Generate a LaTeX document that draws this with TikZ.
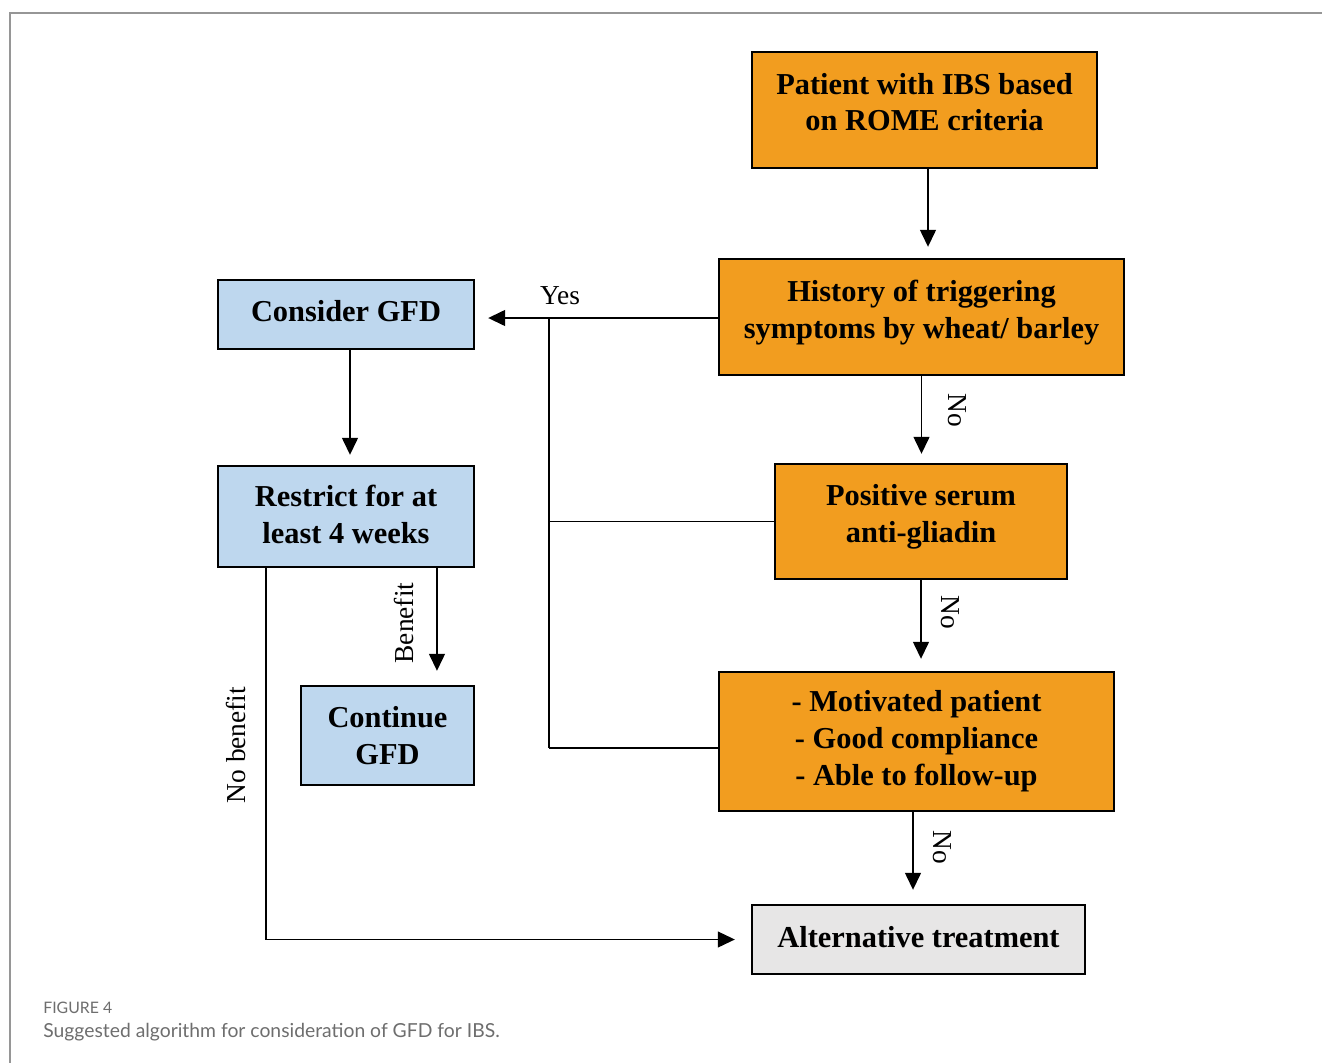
\documentclass[tikz,border=0pt]{standalone}
\usepackage{fontspec}
\setmainfont{Liberation Serif}
\newfontfamily\capfont{Lato}
\usetikzlibrary{calc,positioning,arrows.meta}
\definecolor{ruleOrange}{RGB}{242,157,31}
\definecolor{gfdBlue}{RGB}{190,215,238}
\definecolor{altGray}{RGB}{231,230,230}
\definecolor{frameGray}{RGB}{150,150,150}
\definecolor{capGray}{RGB}{110,110,110}

\begin{document}
\begin{tikzpicture}[x=0.02cm, y=-0.02cm,
  box/.style={draw=black, line width=1.4pt, inner sep=0pt, align=center,
    font=\fontsize{17.3}{21}\selectfont\bfseries},
  orangebox/.style={box, fill=ruleOrange},
  bluebox/.style={box, fill=gfdBlue},
  flow/.style={draw=black, line width=0.8pt, -{Triangle[length=0.34cm, width=0.32cm]}},
  link/.style={draw=black, line width=0.8pt},
  lab/.style={font=\fontsize{15.6}{18}\selectfont, inner sep=0pt}]

% Canvas and frame
\useasboundingbox (0,0) rectangle (1322,1062);
\fill[white] (0,0) rectangle (1322,1062);
\draw[frameGray, line width=0.9pt] (10,1070) -- (10,13) -- (1330,13);

% Right column (decision chain)
\node[orangebox, minimum width=6.9cm, minimum height=2.32cm, text depth=0.32cm] (patient) at (924.5,110) {Patient with IBS based\\on ROME criteria};
\node[orangebox, minimum width=8.1cm, minimum height=2.32cm, text depth=0.32cm] (history) at (921.5,317) {History of triggering\\symptoms by wheat/ barley};
\node[orangebox, minimum width=5.84cm, minimum height=2.3cm, text depth=0.34cm] (serum) at (921,521.5) {Positive serum\\anti-gliadin};
\node[orangebox, minimum width=7.9cm, minimum height=2.78cm] (motive) at (916.5,741.5) {- Motivated patient\\- Good compliance\\- Able to follow-up};
\node[box, fill=altGray, minimum width=6.66cm, minimum height=1.38cm, text depth=0.12cm] (alt) at (918.5,939.5) {Alternative treatment};

% Left column (GFD trial)
\node[bluebox, minimum width=5.12cm, minimum height=1.38cm, text depth=0.16cm] (consider) at (346,314.5) {Consider GFD};
\node[bluebox, minimum width=5.12cm, minimum height=2.02cm, text depth=0.1cm] (restrict) at (346,516.5) {Restrict for at\\least 4 weeks};
\node[bluebox, minimum width=3.46cm, minimum height=1.98cm] (continue) at (387.5,735.5) {Continue\\GFD};

% Arrows down the right column
\draw[flow, shorten >=0.22cm] ([xshift=0.07cm]patient.south) -- ([xshift=0.07cm]patient.south |- history.north);
\draw[flow, shorten >=0.18cm] (history.south) -- (history.south |- serum.north);
\draw[flow, shorten >=0.24cm] (serum.south) -- (serum.south |- motive.north);
\draw[flow, shorten >=0.28cm] ([xshift=-0.07cm]motive.south) -- ([xshift=-0.07cm]motive.south |- alt.north);

% Yes branch gathering into Consider GFD
\coordinate (jtop) at (549,318);
\coordinate (jbot) at (549,748);
\draw[flow, shorten >=0.26cm] (jtop -| history.west) -- (jtop -| consider.east);
\draw[link] (jtop) -- (jbot);
\draw[link] (serum.west) -- (serum.west -| jtop);
\draw[link] (jbot -| motive.west) -- (jbot);

% Arrows down the left column
\draw[flow, shorten >=0.2cm] ([xshift=0.08cm]consider.south) -- ([xshift=0.08cm]consider.south |- restrict.north);
\draw[flow, shorten >=0.28cm] ([xshift=1.82cm]restrict.south) -- ([xshift=1.82cm]restrict.south |- continue.north);
\draw[flow, line width=0.6pt, shorten >=0.32cm] ([xshift=-1.6cm]restrict.south) |- (alt.west);

% Labels on the connectors
\node[lab] (yes) at (560,296) {Yes};
\node[lab, rotate=-90] (no1) at (957,410) {No};
\node[lab, rotate=-90] (no2) at (950,612) {No};
\node[lab, rotate=-90] (no3) at (942,847) {No};
\node[lab, rotate=90] (benefit) at (404,623) {Benefit};
\node[lab, rotate=90] (nobenefit) at (236,745) {No benefit};

% Caption
\node[text=capGray, font=\capfont\fontsize{9}{11}\selectfont, anchor=base west, inner sep=0pt] (fig) at (43,1013) {FIGURE 4};
\node[text=capGray, font=\capfont\fontsize{11}{14}\selectfont, anchor=base west, inner sep=0pt] (cap) at (43,1037) {Suggested algorithm for consideration of GFD for IBS.};

\end{tikzpicture}
\end{document}
